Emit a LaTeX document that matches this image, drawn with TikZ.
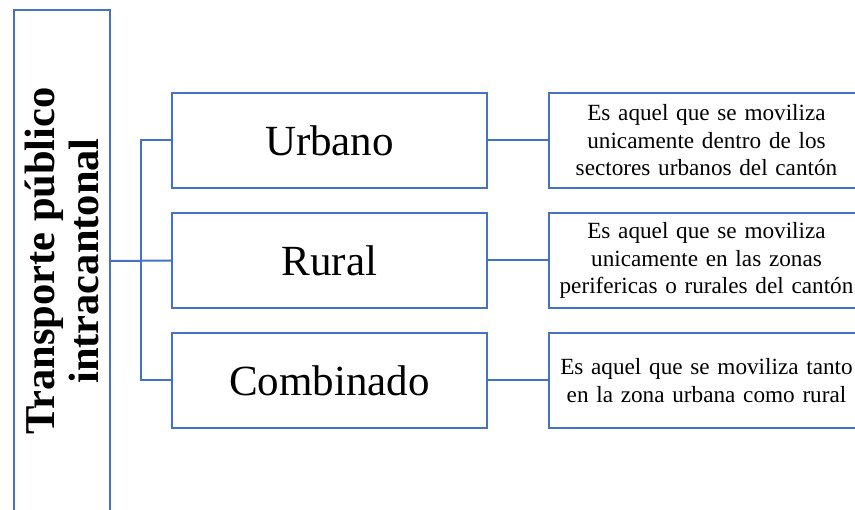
\documentclass[tikz,border=0pt]{standalone}
\usepackage{fontspec}
\setmainfont{Liberation Serif}
\usepackage{tikz}
\usetikzlibrary{positioning}
\definecolor{azul}{HTML}{4472C4}
\tikzstyle{caja} = [draw=azul,line width=2pt,rectangle,inner sep=2pt,align=center]
\tikzstyle{principal} = [caja,rotate=90,minimum width=502pt,minimum height=96pt,
    font=\fontsize{42.5}{44}\selectfont\bfseries]
\tikzstyle{tipo} = [caja,minimum width=315pt,minimum height=95pt,
    font=\fontsize{43}{48}\selectfont]
\tikzstyle{desc} = [caja,minimum width=315pt,minimum height=95pt,text width=311pt,
    font=\fontsize{23.2}{27.5}\selectfont]
\tikzstyle{enlace} = [draw=azul,line width=2pt]
\newcommand{\rama}[2]{
    \node(desc#1) [desc, right=60pt of tipo#1] {#2};
    \draw[enlace] (tipo#1.east) -- (desc#1.west);
}

\begin{document}
\begin{tikzpicture}[x=1pt,y=1pt]
	\clip (0,0) rectangle (855,-510);
	\node(transporte) at (62,-261) [principal] {Transporte público\\intracantonal};
	
	\node(tipo1) at (329.5,-140.5) [tipo] {Urbano};
	\node(tipo2) [tipo, below=23pt of tipo1] {Rural};
	\node(tipo3) [tipo, below=23pt of tipo2] {Combinado};
	
	\rama{1}{Es aquel que se moviliza\\unicamente dentro de los\\sectores urbanos del cantón}
	\rama{2}{Es aquel que se moviliza\\unicamente en las zonas\\perifericas o rurales del cantón}
	\rama{3}{Es aquel que se moviliza tanto\\en la zona urbana como rural}
	
	\coordinate(tronco) at (141,-261);
	\draw[enlace] (transporte.south) -- (tipo2.west);
	\draw[enlace] (tipo1.west) -- (tipo1.west -| tronco) -- (tipo3.west -| tronco) -- (tipo3.west);
\end{tikzpicture}
\end{document}
